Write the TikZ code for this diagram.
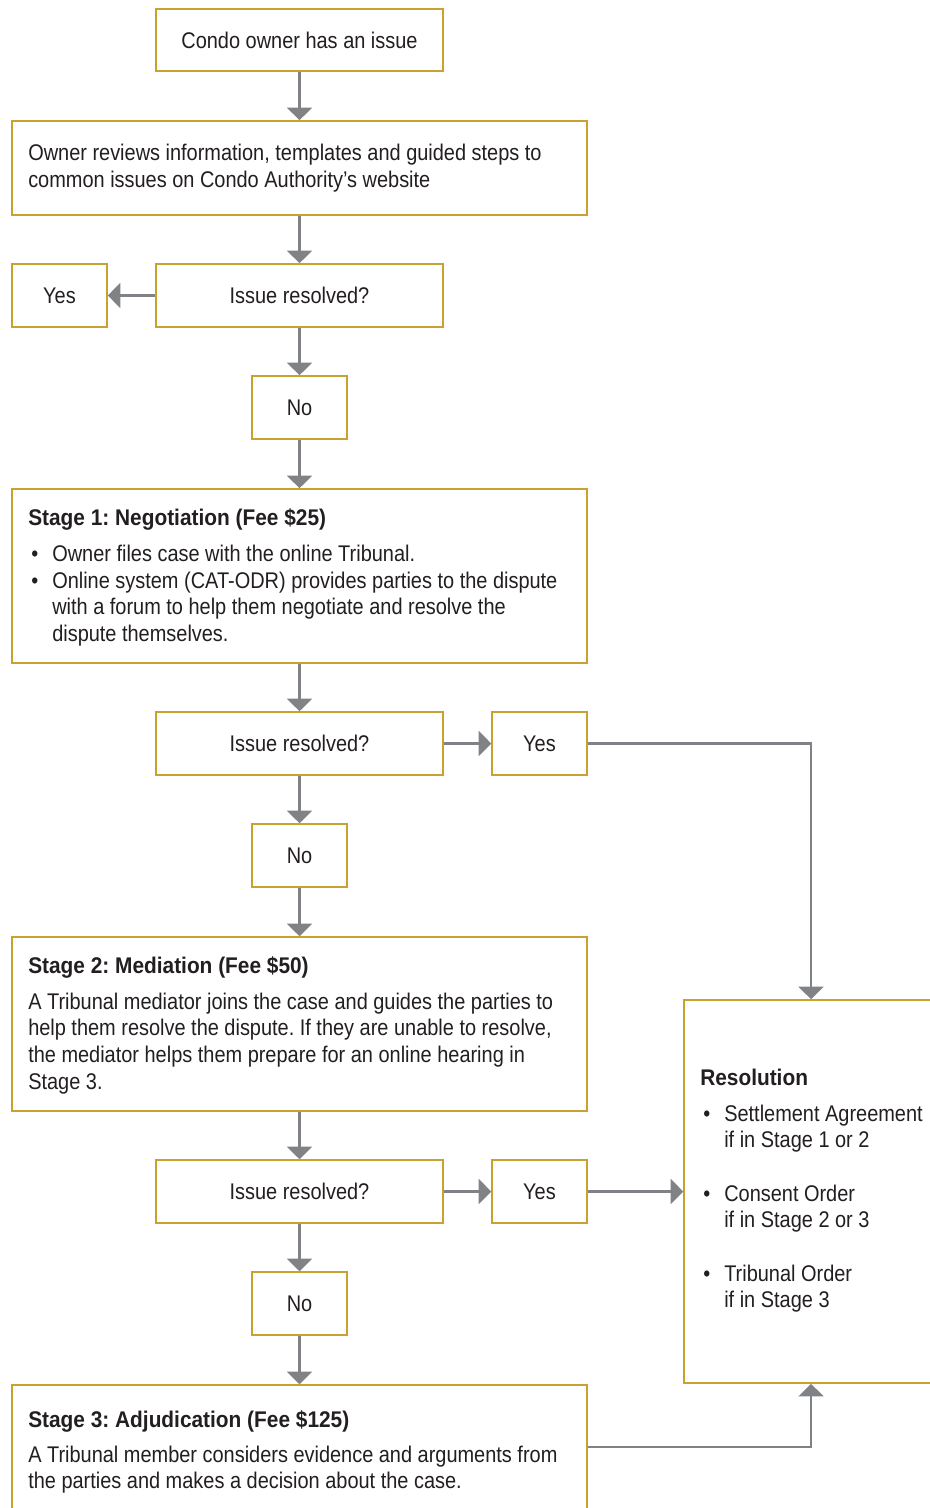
\documentclass[tikz,border=0pt]{standalone}
\usepackage{fontspec}
\setmainfont{Liberation Sans}[FakeStretch=0.88,BoldFeatures={FakeStretch=0.92}]
\usetikzlibrary{arrows.meta,fit}
\definecolor{gold}{RGB}{201,162,45}
\definecolor{arrgray}{RGB}{128,130,134}
\definecolor{txt}{RGB}{35,31,32}
\begin{document}
\frenchspacing
\begin{tikzpicture}[x=0.75pt,y=-0.75pt,
  font=\fontsize{17pt}{20pt}\selectfont\frenchspacing, text=txt,
  box/.style={draw=gold,line width=1.1pt,inner sep=0pt,fill=white},
  lbl/.style={inner sep=0pt,anchor=center},
  conn/.style={draw=arrgray,line width=2.2pt,-{Triangle[width=18.5pt,length=9.5pt]}},
  ttl/.style={inner sep=0pt,anchor=base west,font=\fontsize{17pt}{20pt}\selectfont\bfseries\frenchspacing},
  para/.style={inner sep=0pt,anchor=base west,align=left,text width=#1,
    execute at begin node={\spaceskip=0pt\relax\xspaceskip=0pt\relax}},
  para/.default=430pt,
  bul/.style={inner sep=0pt,anchor=base west}]
\useasboundingbox (0,0) rectangle (929,1508);
% boxes
\node[box,fit={(156,9)(443,71)}] (start) {};
\node[box,fit={(12,121)(587,215)}] (review) {};
\node[box,fit={(156,264)(443,327)}] (q1) {};
\node[box,fit={(12,264)(107,327)}] (yes1) {};
\node[box,fit={(252,376)(347,439)}] (no1) {};
\node[box,fit={(12,489)(587,663)}] (s1) {};
\node[box,fit={(156,712)(443,775)}] (q2) {};
\node[box,fit={(492,712)(587,775)}] (yes2) {};
\node[box,fit={(252,824)(347,887)}] (no2) {};
\node[box,fit={(12,937)(587,1111)}] (s2) {};
\node[box,fit={(156,1160)(443,1223)}] (q3) {};
\node[box,fit={(492,1160)(587,1223)}] (yes3) {};
\node[box,fit={(252,1272)(347,1335)}] (no3) {};
\node[box,fit={(12,1385)(587,1509)}] (s3) {};
\node[box,fit={(684,1000)(938,1383)}] (res) {};
% centred labels
\node[lbl] (startt) at (start) {Condo owner has an issue};
\node[lbl] (q1t) at (q1) {Issue resolved?};
\node[lbl] (yes1t) at (yes1) {Yes};
\node[lbl] (no1t) at (no1) {No};
\node[lbl] (q2t) at (q2) {Issue resolved?};
\node[lbl] (yes2t) at (yes2) {Yes};
\node[lbl] (no2t) at (no2) {No};
\node[lbl] (q3t) at (q3) {Issue resolved?};
\node[lbl] (yes3t) at (yes3) {Yes};
\node[lbl] (no3t) at (no3) {No};
% texts
\node[para] (reviewtxt) at (28,161) {Owner reviews information, templates and guided steps to\\common issues on Condo Authority’s website};
\node[ttl] (s1t) at (28,525) {Stage 1: Negotiation (Fee \$25)};
\node[bul] (s1b1) at (31,561) {•};
\node[para] (s1i1) at (52,561) {Owner files case with the online Tribunal.};
\node[bul] (s1b2) at (31,588) {•};
\node[para] (s1i2) at (52,588) {Online system (CAT-ODR) provides parties to the dispute\\with a forum to help them negotiate and resolve the\\dispute themselves.};
\node[ttl] (s2t) at (28,973) {Stage 2: Mediation (Fee \$50)};
\node[para] (s2txt) at (28,1009) {A Tribunal mediator joins the case and guides the parties to\\help them resolve the dispute. If they are unable to resolve,\\the mediator helps them prepare for an online hearing in\\Stage 3.};
\node[ttl] (s3t) at (28,1427) {Stage 3: Adjudication (Fee \$125)};
\node[para] (s3txt) at (28,1462) {A Tribunal member considers evidence and arguments from\\the parties and makes a decision about the case.};
\node[ttl] (rest) at (700,1085) {Resolution};
\node[bul] (rb1) at (703,1121) {•};
\node[para=200pt] (ri1) at (724,1121) {Settlement Agreement\\if in Stage 1 or 2};
\node[bul] (rb2) at (703,1201) {•};
\node[para=200pt] (ri2) at (724,1201) {Consent Order\\if in Stage 2 or 3};
\node[bul] (rb3) at (703,1281) {•};
\node[para=200pt] (ri3) at (724,1281) {Tribunal Order\\if in Stage 3};
% connectors
\draw[conn] (start) -- (review);
\draw[conn] (review) -- (q1);
\draw[conn] (q1) -- (yes1);
\draw[conn] (q1) -- (no1);
\draw[conn] (no1) -- (s1);
\draw[conn] (s1) -- (q2);
\draw[conn] (q2) -- (yes2);
\draw[conn] (q2) -- (no2);
\draw[conn] (no2) -- (s2);
\draw[conn] (s2) -- (q3);
\draw[conn] (q3) -- (yes3);
\draw[conn] (q3) -- (no3);
\draw[conn] (no3) -- (s3);
\draw[conn] (yes2.east) -| (res.north);
\draw[conn] (yes3.east) -- (yes3.east -| res.west);
\draw[conn] (s3.east) -| (res.south);
\end{tikzpicture}
\end{document}
